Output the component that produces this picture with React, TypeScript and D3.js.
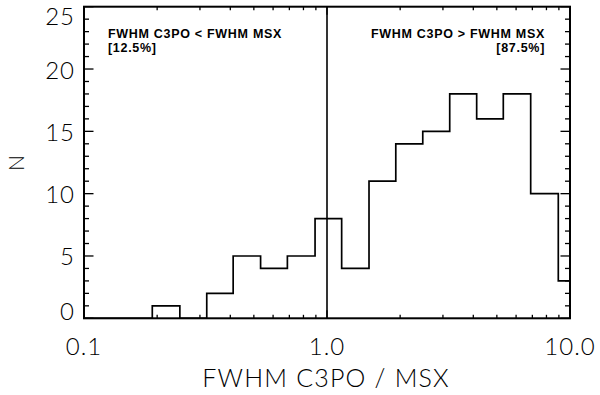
import React from 'react';
import * as d3 from 'd3';

// histogram bin edges (FWHM ratio) and counts
const binEdges = [0.191, 0.248, 0.32, 0.411, 0.533, 0.687, 0.893, 1.149, 1.489, 1.919, 2.478, 3.199, 4.13, 5.315, 6.89, 8.95, 11.6];
const counts = [1, 0, 2, 5, 4, 5, 8, 4, 11, 14, 15, 18, 16, 18, 10, 3];
const yTickLabels = [0, 5, 10, 15, 20, 25];
const xTickLabels = [0.1, 1, 10];
const notes = {
  left: ['FWHM C3PO < FWHM MSX', '[12.5%]'],
  right: ['FWHM C3PO > FWHM MSX', '[87.5%]'],
};

const W = 600;
const H = 395;
const plot = { left: 84, right: 570, top: 6.7, bottom: 318.3 };
const font = '"Liberation Sans", Arial, sans-serif';
const thinFont = 'Lato, "Liberation Sans", sans-serif';

export default function App() {
  const x = d3.scaleLog().domain([0.1, 10]).range([plot.left, plot.right]);
  const y = d3.scaleLinear().domain([0, 25]).range([plot.bottom, plot.top]);

  const pts: [number, number][] = [[0.1, 0]];
  counts.forEach((c, i) => pts.push([binEdges[i], c]));
  pts.push([binEdges[binEdges.length - 1], counts[counts.length - 1]]);
  const histPath = d3.line<[number, number]>()
    .x(d => x(d[0]))
    .y(d => y(d[1]))
    .curve(d3.curveStepAfter)(pts) || '';

  const xTicks = x.ticks();
  const yTicks = d3.range(0, 26);
  const isDecade = (v: number) => Math.abs(Math.log10(v) - Math.round(Math.log10(v))) < 1e-6;

  return (
    <svg width={W} height={H} style={{ position: 'absolute', left: 0, top: 0, background: '#fff' }}>
      <defs>
        <clipPath id="plotclip">
          <rect x={plot.left} y={plot.top} width={plot.right - plot.left} height={plot.bottom - plot.top} />
        </clipPath>
      </defs>

      {/* histogram */}
      <path d={histPath} fill="none" stroke="#000" strokeWidth={1.7} clipPath="url(#plotclip)" />

      {/* divider at ratio 1 */}
      <line x1={x(1)} x2={x(1)} y1={plot.top} y2={plot.bottom} stroke="#000" strokeWidth={1.6} />

      {/* x ticks, bottom and top */}
      {xTicks.map((v, i) => {
        const len = isDecade(v) ? 8 : 3.5;
        return (
          <g key={'xt' + i} stroke="#000" strokeWidth={1.3}>
            <line x1={x(v)} x2={x(v)} y1={plot.bottom} y2={plot.bottom - len} />
            <line x1={x(v)} x2={x(v)} y1={plot.top} y2={plot.top + len} />
          </g>
        );
      })}

      {/* y ticks, left and right */}
      {yTicks.map(v => {
        const len = v % 5 === 0 ? 9.5 : 5;
        return (
          <g key={'yt' + v} stroke="#000" strokeWidth={1.3}>
            <line x1={plot.left} x2={plot.left + len} y1={y(v)} y2={y(v)} />
            <line x1={plot.right} x2={plot.right - len} y1={y(v)} y2={y(v)} />
          </g>
        );
      })}

      {/* frame */}
      <rect x={plot.left} y={plot.top} width={plot.right - plot.left} height={plot.bottom - plot.top}
        fill="none" stroke="#000" strokeWidth={2} />

      {/* y tick labels */}
      {yTickLabels.map(v => {
        const yy = Math.min(Math.max(y(v), plot.top + 9), plot.bottom - 8);
        return (
          <text key={'yl' + v} x={75} y={yy} textAnchor="end" dominantBaseline="central"
            fontFamily={thinFont} fontWeight={300} fontSize={24} letterSpacing={1} fill="#000">{v}</text>
        );
      })}

      {/* x tick labels */}
      {xTickLabels.map(v => (
        <text key={'xl' + v} x={x(v)} y={355} textAnchor="middle"
          fontFamily={thinFont} fontWeight={300} fontSize={24} letterSpacing={1} fill="#000">{v.toFixed(1)}</text>
      ))}

      {/* axis titles */}
      <text x={326} y={387} textAnchor="middle" fontFamily={thinFont} fontWeight={300} fontSize={25} letterSpacing={1.2} fill="#000">
        FWHM C3PO / MSX
      </text>
      <text transform="translate(24,163) rotate(-90)" textAnchor="middle" fontFamily={thinFont} fontWeight={300} fontSize={21} fill="#000">N</text>

      {/* annotations */}
      <g fontFamily={font} fontSize={12.5} fontWeight="bold" fill="#000" letterSpacing={0.7}>
        <text x={108} y={38}>{notes.left[0]}</text>
        <text x={108} y={52}>{notes.left[1]}</text>
        <text x={545} y={38} textAnchor="end">{notes.right[0]}</text>
        <text x={545} y={52} textAnchor="end">{notes.right[1]}</text>
      </g>
    </svg>
  );
}
